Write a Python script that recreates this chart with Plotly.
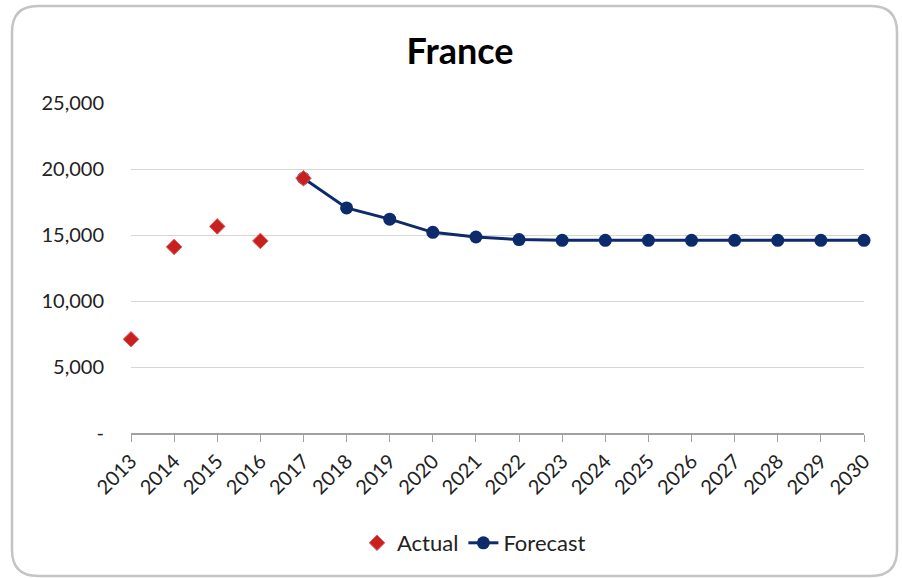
import plotly.graph_objects as go

# Annual values
actual_years = [2013, 2014, 2015, 2016, 2017]
actual_values = [7100, 14100, 15650, 14550, 19300]

forecast_years = list(range(2017, 2031))
forecast_values = [19300, 17050, 16200, 15200, 14850, 14650, 14600,
                   14600, 14600, 14600, 14600, 14600, 14600, 14600]

year_ticks = list(range(2013, 2031))
y_ticks = [0, 5000, 10000, 15000, 20000, 25000]
y_labels = ["-", "5,000", "10,000", "15,000", "20,000", "25,000"]

NAVY = "#0D2B6B"
RED = "#C8201E"
FONT = "Lato, 'Open Sans', sans-serif"

W, H = 902, 578
ML, MR, MT, MB = 131, 38, 103, 145
PW, PH = W - ML - MR, H - MT - MB

fig = go.Figure()

fig.add_trace(go.Scatter(
    x=forecast_years, y=forecast_values, name="Forecast",
    mode="lines+markers",
    line=dict(color=NAVY, width=3),
    marker=dict(symbol="circle", size=13, color=NAVY),
    cliponaxis=False, legendrank=2,
))
fig.add_trace(go.Scatter(
    x=actual_years, y=actual_values, name="Actual",
    mode="markers",
    marker=dict(symbol="diamond", size=12, color=RED,
                line=dict(color="#E06060", width=1)),
    cliponaxis=False, legendrank=1,
))


def px_x(p):
    return (p - ML) / PW


def px_y(p):
    return (H - MB - p) / PH


# rounded outer frame, given in pixels and mapped to plot-domain coordinates
fl, ft, fr, fb, rad = 12, 6, 897, 576, 26
x0, x1 = px_x(fl), px_x(fr)
y0, y1 = px_y(fb), px_y(ft)
rx, ry = rad / PW, rad / PH
path = (f"M {x0 + rx},{y1} L {x1 - rx},{y1} Q {x1},{y1} {x1},{y1 - ry} "
        f"L {x1},{y0 + ry} Q {x1},{y0} {x1 - rx},{y0} "
        f"L {x0 + rx},{y0} Q {x0},{y0} {x0},{y0 + ry} "
        f"L {x0},{y1 - ry} Q {x0},{y1} {x0 + rx},{y1} Z")

fig.update_layout(
    width=W, height=H,
    margin=dict(l=ML, r=MR, t=MT, b=MB),
    paper_bgcolor="white", plot_bgcolor="white",
    font=dict(family=FONT, color="#222222", size=20),
    title=dict(text="<b>France</b>", x=460 / W, xanchor="center",
               y=1 - 51 / H, yanchor="middle",
               font=dict(size=36, color="#000000", family=FONT)),
    showlegend=True,
    legend=dict(orientation="h", x=px_x(474), xanchor="center",
                y=px_y(543), yanchor="middle",
                font=dict(size=22, color="#222222"),
                itemwidth=30),
    shapes=[dict(type="path", xref="paper", yref="paper",
                 path=path,
                 line=dict(color="#C4C4C4", width=2.5),
                 layer="below")],
    xaxis=dict(
        range=[2013, 2030], tickmode="array", tickvals=year_ticks,
        ticktext=[str(y) for y in year_ticks],
        tickangle=-45, showgrid=False, zeroline=False,
        showline=True, linecolor="#A0A0A0", linewidth=1.5,
        ticks="outside", ticklen=7, tickcolor="#A0A0A0",
        tickfont=dict(size=20, color="#222222"),
    ),
    yaxis=dict(
        range=[0, 25000], tickmode="array", tickvals=y_ticks,
        ticktext=y_labels, showgrid=True, gridcolor="#D6D6D6",
        gridwidth=1, zeroline=False, showline=False,
        ticks="", ticklabelstandoff=26,
        tickfont=dict(size=20, color="#222222"),
    ),
)

fig.write_html("out.html")
